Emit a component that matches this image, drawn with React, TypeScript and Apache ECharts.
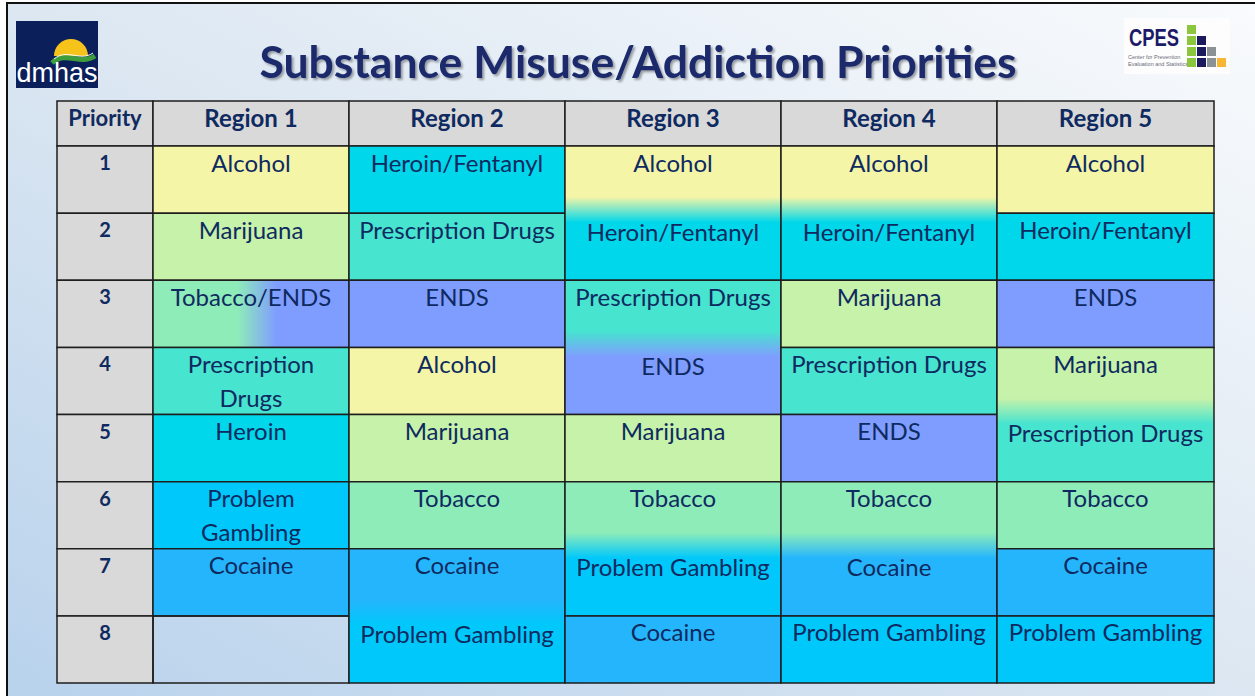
import React, { useEffect, useRef } from "react";
import * as echarts from "echarts";

// ---------- data ----------
const title = "Substance Misuse/Addiction Priorities";
const priorityHeader = "Priority";
const regions = ["Region 1", "Region 2", "Region 3", "Region 4", "Region 5"];
const priorities = ["1", "2", "3", "4", "5", "6", "7", "8"];

const region1 = ["Alcohol", "Marijuana", "Tobacco/ENDS", "Prescription Drugs", "Heroin", "Problem Gambling", "Cocaine", ""];
const region2 = ["Heroin/Fentanyl", "Prescription Drugs", "ENDS", "Alcohol", "Marijuana", "Tobacco", "Cocaine", "Problem Gambling"];
const region3 = ["Alcohol", "Heroin/Fentanyl", "Prescription Drugs", "ENDS", "Marijuana", "Tobacco", "Problem Gambling", "Cocaine"];
const region4 = ["Alcohol", "Heroin/Fentanyl", "Marijuana", "Prescription Drugs", "ENDS", "Tobacco", "Cocaine", "Problem Gambling"];
const region5 = ["Alcohol", "Heroin/Fentanyl", "ENDS", "Marijuana", "Prescription Drugs", "Tobacco", "Cocaine", "Problem Gambling"];
const regionColumns = [region1, region2, region3, region4, region5];

// blended cells spanning two priorities: [region index, first priority index]
const blendedCells = [[1, 6], [2, 0], [2, 2], [2, 5], [3, 0], [3, 5], [4, 3]];

// ---------- styles / layout ----------
const substanceColors: Record<string, string> = {
  "Alcohol": "#f4f5a7",
  "Marijuana": "#c7f2a9",
  "Tobacco": "#8eecb9",
  "Prescription Drugs": "#47e4d0",
  "Heroin/Fentanyl": "#00d7ea",
  "Heroin": "#00d7ea",
  "ENDS": "#7f9dff",
  "Problem Gambling": "#00c8fb",
  "Cocaine": "#25b5fd",
};
const headerFill = "#d9d9d9";
const textColor = "#0e2a60";
const borderColor = "#1e1e1e";
const colWidths = [96, 196, 216, 216, 216, 217];
const headerRatio = 45 / 67.1;
const cellFont = "Lato";

type Label = { text: string; row: number; bold?: boolean; size?: number; header?: boolean };
type Cell = { col: number; r0: number; r1: number; fill: any; labels: Label[] };

function colEdge(c: number) {
  let s = 0;
  for (let i = 0; i < c; i++) s += colWidths[i];
  return s;
}

// narrow cells put long two-word labels on two lines
function wrapLabel(t: string, w: number) {
  return w < 205 && t.length > 14 && t.indexOf(" ") > 0 ? t.replace(" ", "\n") : t;
}

function vGrad(a: string, b: string) {
  return new echarts.graphic.LinearGradient(0, 0, 0, 1, [
    { offset: 0, color: a },
    { offset: 0.38, color: a },
    { offset: 0.57, color: b },
    { offset: 1, color: b },
  ]);
}
function hGrad(a: string, b: string) {
  return new echarts.graphic.LinearGradient(0, 0, 1, 0, [
    { offset: 0, color: a },
    { offset: 0.43, color: a },
    { offset: 0.63, color: b },
    { offset: 1, color: b },
  ]);
}
function fillFor(label: string) {
  if (!label) return "none";
  if (substanceColors[label]) return substanceColors[label];
  const parts = label.split("/");
  if (parts.length === 2 && substanceColors[parts[0]] && substanceColors[parts[1]]) {
    return hGrad(substanceColors[parts[0]], substanceColors[parts[1]]);
  }
  return "none";
}

function buildCells(): Cell[] {
  const cells: Cell[] = [];
  cells.push({ col: 0, r0: -headerRatio, r1: 0, fill: headerFill, labels: [{ text: priorityHeader, row: 0, bold: true, size: 22, header: true }] });
  regions.forEach((r, i) =>
    cells.push({ col: i + 1, r0: -headerRatio, r1: 0, fill: headerFill, labels: [{ text: r, row: 0, bold: true, size: 24, header: true }] })
  );
  priorities.forEach((p, i) =>
    cells.push({ col: 0, r0: i, r1: i + 1, fill: headerFill, labels: [{ text: p, row: 0, bold: true, size: 20 }] })
  );
  regionColumns.forEach((col, c) => {
    for (let i = 0; i < col.length; i++) {
      const blend = blendedCells.find((b) => b[0] === c && b[1] === i);
      if (blend) {
        const a = col[i], b = col[i + 1];
        cells.push({
          col: c + 1, r0: i, r1: i + 2,
          fill: vGrad(substanceColors[a], substanceColors[b]),
          labels: [{ text: a, row: 0 }, { text: b, row: 1 }],
        });
        i++;
      } else {
        cells.push({ col: c + 1, r0: i, r1: i + 1, fill: fillFor(col[i]), labels: [{ text: col[i], row: 0 }] });
      }
    }
  });
  return cells;
}

export default function App() {
  const ref = useRef<HTMLDivElement>(null);
  useEffect(() => {
    if (!ref.current) return;
    const chart = echarts.init(ref.current, undefined, { renderer: "svg" });
    const cells = buildCells();
    const totalW = colEdge(colWidths.length);

    const logoGraphics: any[] = [
      { type: "rect", shape: { x: 0, y: 0, width: 1255, height: 696 }, style: { fill: "#ffffff" }, z: -10 },
      {
        type: "rect",
        shape: { x: 7, y: 3, width: 1260, height: 700 },
        style: {
          fill: new echarts.graphic.LinearGradient(0, 1, 1, 0, [
            { offset: 0, color: "#b8d2ec" },
            { offset: 0.5, color: "#dce7f2" },
            { offset: 1, color: "#f9fbfd" },
          ]),
          stroke: "#111",
          lineWidth: 2,
        },
        z: -9,
      },
      // dmhas logo
      { type: "rect", shape: { x: 16, y: 21, width: 82, height: 67 }, style: { fill: "#0b1f5a" } },
      {
        type: "sector",
        shape: { cx: 71, cy: 56, r: 17, r0: 0, startAngle: Math.PI, endAngle: Math.PI * 2, clockwise: true },
        style: { fill: "#f6c31a" },
      },
      {
        type: "bezierCurve",
        shape: { x1: 52, y1: 63, x2: 95, y2: 56, cpx1: 66, cpy1: 50, cpx2: 80, cpy2: 66 },
        style: { stroke: "#3f9e3c", lineWidth: 5, fill: "none" },
      },
      {
        type: "bezierCurve",
        shape: { x1: 54, y1: 59, x2: 93, y2: 53, cpx1: 67, cpy1: 48, cpx2: 80, cpy2: 62 },
        style: { stroke: "#ffffff", lineWidth: 1, fill: "none" },
      },
      {
        type: "text", x: 57, y: 73,
        style: { text: "dmhas", fill: "#ffffff", font: "27px 'Liberation Sans', Arial, sans-serif", align: "center", verticalAlign: "middle" },
      },
      // CPES logo
      { type: "rect", shape: { x: 1124, y: 18, width: 106, height: 56 }, style: { fill: "#fdfdfd" } },
      {
        type: "text", x: 1129, y: 38, scaleX: 0.8,
        style: { text: "CPES", fill: "#1c1a68", font: "bold 23px 'Liberation Sans', Arial, sans-serif", align: "left", verticalAlign: "middle" },
      },
      {
        type: "text", x: 1128, y: 57,
        style: { text: "Center for Prevention", fill: "#6a6a7a", font: "5.5px 'Liberation Sans', Arial, sans-serif", align: "left", verticalAlign: "middle" },
      },
      {
        type: "text", x: 1128, y: 64,
        style: { text: "Evaluation and Statistics", fill: "#6a6a7a", font: "5.5px 'Liberation Sans', Arial, sans-serif", align: "left", verticalAlign: "middle" },
      },
    ];
    const sq = (x: number, y: number, c: string) => ({ type: "rect", shape: { x, y, width: 9, height: 9 }, style: { fill: c } });
    const green = "#8cc63f", navy = "#1b1a5e", grey = "#8c9196", orange = "#f7b733";
    [25, 36, 47, 58].forEach((y) => logoGraphics.push(sq(1187, y, green)));
    [36, 47, 58].forEach((y) => logoGraphics.push(sq(1197, y, navy)));
    [47, 58].forEach((y) => logoGraphics.push(sq(1207, y, grey)));
    logoGraphics.push(sq(1217, 58, orange));
    logoGraphics.push({
      type: "text", x: 638, y: 60,
      style: {
        text: title, fill: "#1a2a6c", font: "bold 44.5px Lato, sans-serif", align: "center", verticalAlign: "middle",
        textShadowColor: "rgba(0,0,0,0.35)", textShadowBlur: 2, textShadowOffsetX: 2, textShadowOffsetY: 2,
      },
    });

    chart.setOption({
      animation: false,
      graphic: logoGraphics,
      grid: { left: 57, top: 101, width: 1157, height: 582 },
      xAxis: { type: "value", min: 0, max: totalW, show: false },
      yAxis: { type: "value", min: -headerRatio, max: priorities.length, inverse: true, show: false },
      series: [
        {
          type: "custom",
          clip: false,
          data: cells.map((c) => [colEdge(c.col), colEdge(c.col + 1), c.r0, c.r1]),
          renderItem: (params: any, api: any) => {
            const cell = cells[params.dataIndex];
            const a = api.coord([api.value(0), api.value(2)]);
            const b = api.coord([api.value(1), api.value(3)]);
            const x = a[0], y = a[1], w = b[0] - a[0], h = b[1] - a[1];
            const rowH = api.size([0, 1])[1];
            const children: any[] = [
              {
                type: "rect",
                shape: { x, y, width: w, height: h },
                style: { fill: cell.fill, stroke: borderColor, lineWidth: 1.5 },
              },
            ];
            cell.labels.forEach((l) => {
              if (!l.text) return;
              if (l.header) {
                children.push({
                  type: "text", x: x + w / 2, y: y + h / 2 - 6,
                  style: {
                    text: l.text, fill: textColor, fontFamily: cellFont, fontWeight: "bold",
                    fontSize: l.size, align: "center", verticalAlign: "middle",
                  },
                });
                return;
              }
              children.push({
                type: "text",
                x: x + w / 2,
                y: y + l.row * rowH + (l.row ? 1 : -1),
                style: {
                  text: wrapLabel(l.text, w), fill: textColor, fontFamily: cellFont,
                  fontWeight: l.bold ? "bold" : "normal", fontSize: l.size || 24,
                  align: "center", verticalAlign: "top", lineHeight: 34,
                },
              });
            });
            return { type: "group", children };
          },
        },
      ],
    });
    return () => chart.dispose();
  }, []);
  return <div ref={ref} style={{ position: "absolute", left: 0, top: 0, width: 1255, height: 696 }} />;
}
